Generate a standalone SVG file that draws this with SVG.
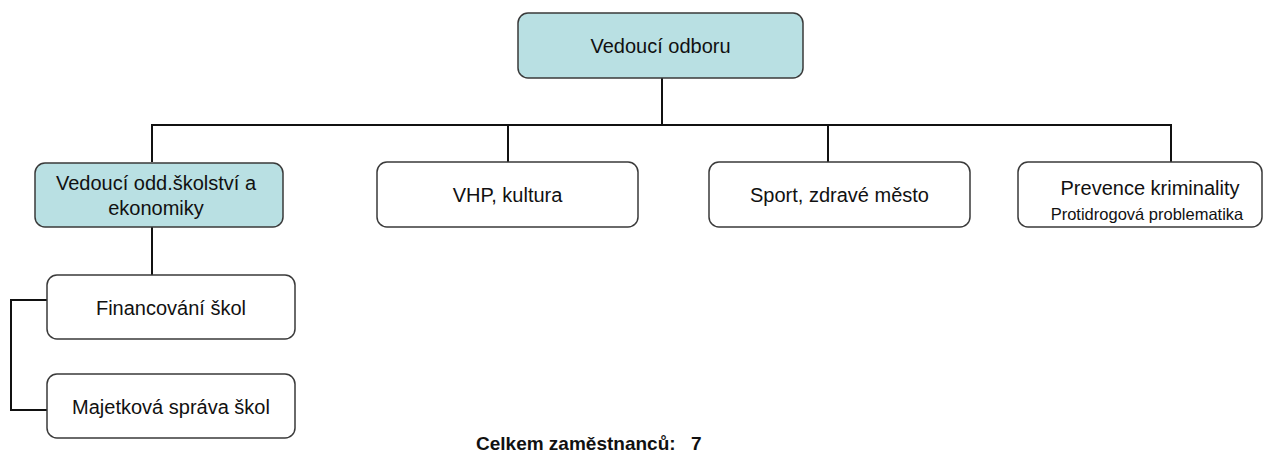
<svg xmlns="http://www.w3.org/2000/svg" width="1269" height="452" viewBox="0 0 1269 452">
<style>
.box{fill:#ffffff;stroke:#3a3a3a;stroke-width:1.5}
.teal{fill:#b9e0e3}
.t{font-family:"Liberation Sans",Arial,sans-serif;font-size:20px;fill:#111;text-anchor:middle}
.s{font-size:16.5px}
.b{font-family:"Liberation Sans",Arial,sans-serif;font-size:19px;font-weight:bold;fill:#111}
.c{fill:none;stroke:#111;stroke-width:2}
</style>
<rect width="1269" height="452" fill="#ffffff"/>
<g id="connectors">
<path class="c" d="M662,78 V125"/>
<path class="c" d="M152,162 V125 H1171 V162"/>
<path class="c" d="M508,125 V162"/>
<path class="c" d="M828,125 V162"/>
<path class="c" d="M152,227 V275"/>
<path class="c" d="M47,300 H11 V410 H47"/>
</g>
<g id="vedouci-odboru">
<rect class="box teal" x="518" y="13" width="285" height="65" rx="10"/>
<text class="t" x="660.5" y="53">Vedoucí odboru</text>
</g>
<g id="vedouci-skolstvi">
<rect class="box teal" x="35" y="163" width="248" height="64" rx="10"/>
<text class="t" x="156" y="190">Vedoucí odd.školství a</text>
<text class="t" x="156" y="215">ekonomiky</text>
</g>
<g id="vhp-kultura">
<rect class="box" x="377" y="162" width="261" height="65" rx="10"/>
<text class="t" x="507.5" y="202">VHP, kultura</text>
</g>
<g id="sport">
<rect class="box" x="709" y="162" width="261" height="65" rx="10"/>
<text class="t" x="839.5" y="202">Sport, zdravé město</text>
</g>
<g id="prevence">
<rect class="box" x="1018" y="162" width="244" height="65" rx="10"/>
<text class="t" x="1150" y="195">Prevence kriminality</text>
<text class="t s" x="1147" y="220">Protidrogová problematika</text>
</g>
<g id="financovani">
<rect class="box" x="47" y="275" width="248" height="64" rx="10"/>
<text class="t" x="171" y="315">Financování škol</text>
</g>
<g id="majetkova">
<rect class="box" x="47" y="374" width="248" height="64" rx="10"/>
<text class="t" x="171" y="414">Majetková správa škol</text>
</g>
<text class="b" x="476" y="450">Celkem zaměstnanců:</text>
<text class="b" x="691" y="450">7</text>
</svg>
